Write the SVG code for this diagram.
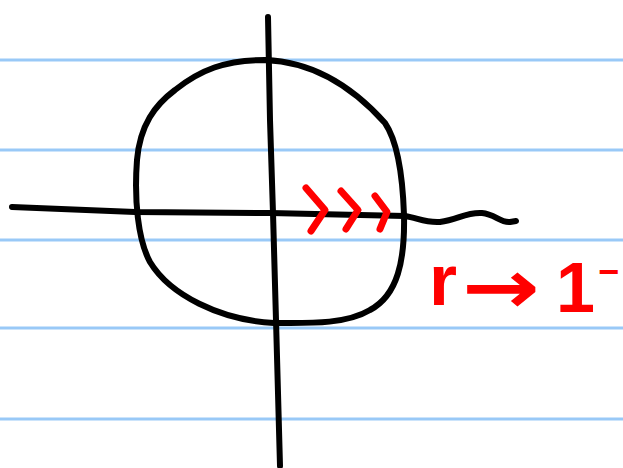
<svg xmlns="http://www.w3.org/2000/svg" width="623" height="468" viewBox="0 0 623 468">
<style>
.rule{stroke:#99c9f7;stroke-width:3;fill:none}
.ink{stroke:#000;stroke-width:6;fill:none;stroke-linecap:round;stroke-linejoin:round}
.red{stroke:#ff0000;stroke-width:7;fill:none;stroke-linecap:round;stroke-linejoin:round}
.rt{fill:#ff0000;font-family:"Liberation Sans",Arial,sans-serif;font-weight:bold}
.ra{fill:#ff0000;font-family:"DejaVu Sans",sans-serif;font-weight:bold}
</style>
<rect width="623" height="468" fill="#fff"/>
<g id="paper-rules">
<line class="rule" x1="0" y1="60" x2="623" y2="60"/>
<line class="rule" x1="0" y1="150" x2="623" y2="150"/>
<line class="rule" x1="0" y1="240" x2="623" y2="240"/>
<line class="rule" x1="0" y1="328" x2="623" y2="328"/>
<line class="rule" x1="0" y1="419" x2="623" y2="419"/>
</g>
<g id="circle">
<path class="ink" d="M265,60 C320,62 360,95 385,123 C400,145 403,185 404,215 C405,260 398,295 370,310 C345,325 305,323 274,323 C220,320 170,295 150,262 C138,240 134,200 137,160 C140,125 155,105 175,90 C200,70 225,60 265,60 Z"/>
</g>
<g id="axes">
<path class="ink" d="M268,17 L270,120 L273,213 L276,320 L280,466"/>
<path class="ink" d="M12,207 L135,212 L270,213 L405,216 C418,218 425,223 440,222 C458,220 465,212 482,213 C495,214 500,223 510,222 L516,221"/>
</g>
<g id="chevrons">
<path class="red" d="M306,188 L325,210 L311,231"/>
<path class="red" d="M341,191 L358,210 L346,229"/>
<path class="red" d="M375,196 L387,212 L380,229"/>
</g>
<g id="label">
<text class="rt" x="429" y="305" font-size="72">r</text>
<text class="ra" x="462" y="313" font-size="75" textLength="78" lengthAdjust="spacingAndGlyphs">→</text>
<text class="rt" x="556" y="312" font-size="70">1</text>
<text class="rt" x="598" y="284" font-size="36">−</text>
</g>
</svg>
